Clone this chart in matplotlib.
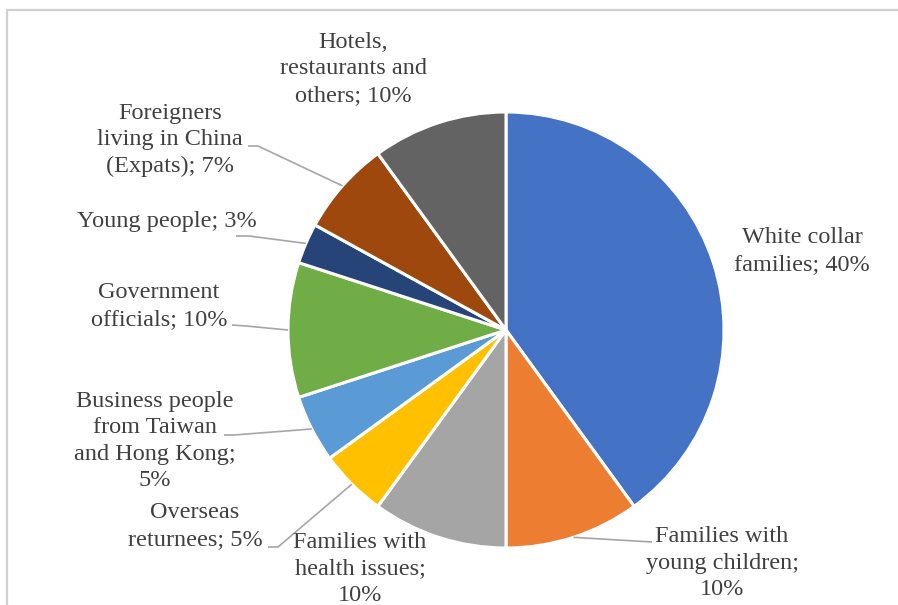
import numpy as np
import matplotlib
matplotlib.use("Agg")
import matplotlib.pyplot as plt

# Customer segments and their shares (%), clockwise from 12 o'clock
segments = [
    "White collar\nfamilies; 40%",
    "Families with\nyoung children;\n10%",
    "Families with\nhealth issues;\n10%",
    "Overseas\nreturnees; 5%",
    "Business people\nfrom Taiwan\nand Hong Kong;\n5%",
    "Government\nofficials; 10%",
    "Young people; 3%",
    "Foreigners\nliving in China\n(Expats); 7%",
    "Hotels,\nrestaurants and\nothers; 10%",
]
shares = [40, 10, 10, 5, 5, 10, 3, 7, 10]
colors = ["#4472C4", "#ED7D31", "#A5A5A5", "#FFC000", "#5B9BD5",
          "#70AD47", "#264478", "#9E480E", "#636363"]

# label centres in pixels (x, y from top), and leader start points (None = no leader)
label_pos = [(802, 251), (722, 563), (360, 569), (195, 526), (155, 441),
             (159, 306), (167, 222), (170, 140), (353, 69)]
leader_start = [None, [(652, 542)], None, [(268, 547), (278, 547)],
                [(224, 435), (234, 435)], [(232, 325), (246, 326)],
                [(236, 236), (249, 236)], [(248, 146), (258, 146)], None]

W, H = 898, 605
cx, cy, r = 506, 330, 218

fig = plt.figure(figsize=(W / 100, H / 100), dpi=100)
ax = fig.add_axes([0, 0, 1, 1])

wedges, _ = ax.pie(shares, colors=colors, startangle=90, counterclock=False,
                   center=(cx, H - cy), radius=r,
                   wedgeprops=dict(edgecolor="white", linewidth=2.2))
ax.set_xlim(0, W)
ax.set_ylim(0, H)
ax.set_aspect("equal")
ax.axis("off")

txt_color = "#404040"
for w, lab, (lx, ly), lead in zip(wedges, segments, label_pos, leader_start):
    ax.text(lx, H - ly, lab, ha="center", va="center", fontsize=17.5,
            family="Liberation Serif", color=txt_color, linespacing=1.34)
    if lead:
        mid = np.deg2rad((w.theta1 + w.theta2) / 2)
        ex = cx + r * np.cos(mid)
        ey = (H - cy) + r * np.sin(mid)
        xs = [p[0] for p in lead] + [ex]
        ys = [H - p[1] for p in lead] + [ey]
        ax.plot(xs, ys, color="#A6A6A6", lw=1.2, solid_capstyle="butt")

# chart area border (left and top edges visible)
ax.plot([7, 7, W], [0, H - 9.5, H - 9.5], color="#D0D0D0", lw=1.6)

fig.savefig("out.png", dpi=100)
